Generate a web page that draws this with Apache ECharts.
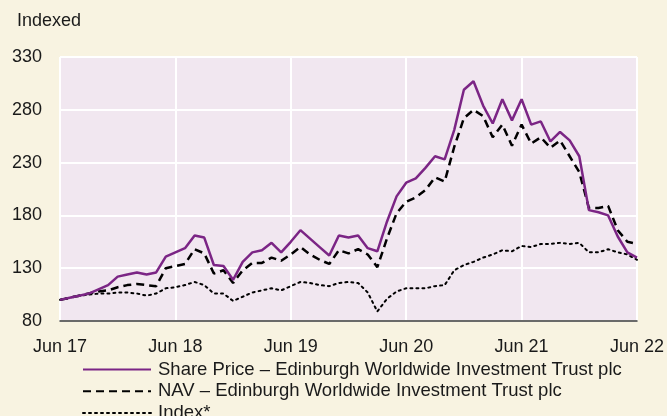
<!DOCTYPE html>
<html>
<head>
<meta charset="utf-8">
<script src="https://cdn.jsdelivr.net/npm/echarts@6/dist/echarts.min.js"></script>
<style>
  html, body { margin: 0; padding: 0; background: #f8f3e1; }
  #main { width: 667px; height: 416px; }
</style>
</head>
<body>
<div id="main"></div>
<script>
// months Jun 17 .. Jun 22
const months = [
  'Jun 17','Jul 17','Aug 17','Sep 17','Oct 17','Nov 17','Dec 17','Jan 18','Feb 18','Mar 18','Apr 18','May 18',
  'Jun 18','Jul 18','Aug 18','Sep 18','Oct 18','Nov 18','Dec 18','Jan 19','Feb 19','Mar 19','Apr 19','May 19',
  'Jun 19','Jul 19','Aug 19','Sep 19','Oct 19','Nov 19','Dec 19','Jan 20','Feb 20','Mar 20','Apr 20','May 20',
  'Jun 20','Jul 20','Aug 20','Sep 20','Oct 20','Nov 20','Dec 20','Jan 21','Feb 21','Mar 21','Apr 21','May 21',
  'Jun 21','Jul 21','Aug 21','Sep 21','Oct 21','Nov 21','Dec 21','Jan 22','Feb 22','Mar 22','Apr 22','May 22',
  'Jun 22'
]
const tickLabels = ['Jun 17', 'Jun 18', 'Jun 19', 'Jun 20', 'Jun 21', 'Jun 22']

const sharePrice = [
  100, 102, 104, 106, 110, 114, 122, 124, 126, 124, 126, 141,
  145, 149, 161, 159, 133, 132, 119, 136, 145, 147, 154, 145,
  155, 166, 158, 150, 142, 161, 159, 161, 149, 146, 174, 198,
  211, 215, 225, 236, 233, 261, 299, 307, 284, 267, 290, 270,
  290, 266, 269, 250, 259, 251, 236, 185, 183, 180, 160, 145,
  140
]
const nav = [
  100, 102, 104, 106, 108, 109, 112, 114, 115, 114, 113, 130,
  132, 134, 148, 144, 125, 128, 116, 128, 135, 135, 140, 137,
  143, 150, 143, 138, 134, 147, 144, 148, 143, 131, 158, 182,
  193, 197, 204, 216, 212, 245, 272, 280, 274, 254, 266, 246,
  266, 248, 254, 244, 251, 236, 221, 187, 187, 189, 166, 155,
  153
]
const indexLine = [
  100, 102, 104, 105, 106, 106, 107, 107, 106, 104, 106, 111,
  112, 114, 117, 114, 106, 106, 99, 103, 107, 109, 111, 109,
  113, 117, 116, 114, 113, 116, 117, 116, 107, 89, 101, 108,
  111, 111, 111, 113, 114, 128, 133, 136, 140, 143, 147, 146,
  151, 150, 153, 153, 154, 153, 154, 145, 145, 148, 145, 143,
  138
]

const seriesNames = [
  'Share Price \u2013 Edinburgh Worldwide Investment Trust plc',
  'NAV \u2013 Edinburgh Worldwide Investment Trust plc',
  'Index*'
]

const font = '"Liberation Sans", Arial, sans-serif'
const isTick = (i) => i % 12 === 0

// one legend per row so they stack like the original
const legendRows = seriesNames.map((name, k) => ({
  orient: 'vertical',
  left: 77,
  top: 355 + k * 21.7,
  itemWidth: 68,
  itemHeight: 14,
  itemGap: 0,
  selectedMode: false,
  itemStyle: { opacity: 0, borderWidth: 0 },
  textStyle: { color: '#1a1a1a', fontSize: 18.5, fontFamily: font, padding: [0, 0, 0, 2] },
  data: [name]
}))

let myChart = echarts.init(document.getElementById('main'))

let option = {
  backgroundColor: '#f8f3e1',
  animation: false,
  textStyle: { fontFamily: font },
  graphic: [{
    type: 'text',
    left: 17,
    top: 12,
    style: { text: 'Indexed', fill: '#1a1a1a', font: '18px ' + font }
  }],
  legend: legendRows,
  grid: {
    left: 60,
    right: 29,
    top: 57,
    bottom: 95,
    show: true,
    backgroundColor: '#f1e7f0',
    borderWidth: 0
  },
  xAxis: {
    type: 'category',
    data: months,
    boundaryGap: false,
    axisLine: { lineStyle: { color: '#3a3a3a', width: 1.5 } },
    axisTick: { show: false },
    axisLabel: {
      interval: (i) => isTick(i),
      margin: 17,
      color: '#1a1a1a',
      fontSize: 18,
      formatter: (v, i) => tickLabels[i / 12]
    },
    splitLine: {
      show: true,
      interval: (i) => isTick(i),
      lineStyle: { color: '#ffffff', width: 2 }
    }
  },
  yAxis: {
    type: 'value',
    min: 80,
    max: 330,
    interval: 50,
    axisLine: { show: false },
    axisTick: { show: false },
    axisLabel: { color: '#1a1a1a', fontSize: 18, margin: 18 },
    splitLine: { lineStyle: { color: '#ffffff', width: 2 } }
  },
  series: [
    {
      name: seriesNames[0],
      type: 'line',
      data: sharePrice,
      symbol: 'none',
      itemStyle: { color: '#7b2585' },
      lineStyle: { color: '#7b2585', width: 2.5 },
      z: 4
    },
    {
      name: seriesNames[1],
      type: 'line',
      data: nav,
      symbol: 'none',
      itemStyle: { color: '#000000' },
      lineStyle: { color: '#000000', width: 2.5, type: [8, 5] },
      z: 3
    },
    {
      name: seriesNames[2],
      type: 'line',
      data: indexLine,
      symbol: 'none',
      itemStyle: { color: '#000000' },
      lineStyle: { color: '#000000', width: 2, type: [2, 4], cap: 'round' },
      z: 2
    }
  ]
}

myChart.setOption(option)
</script>
</body>
</html>
